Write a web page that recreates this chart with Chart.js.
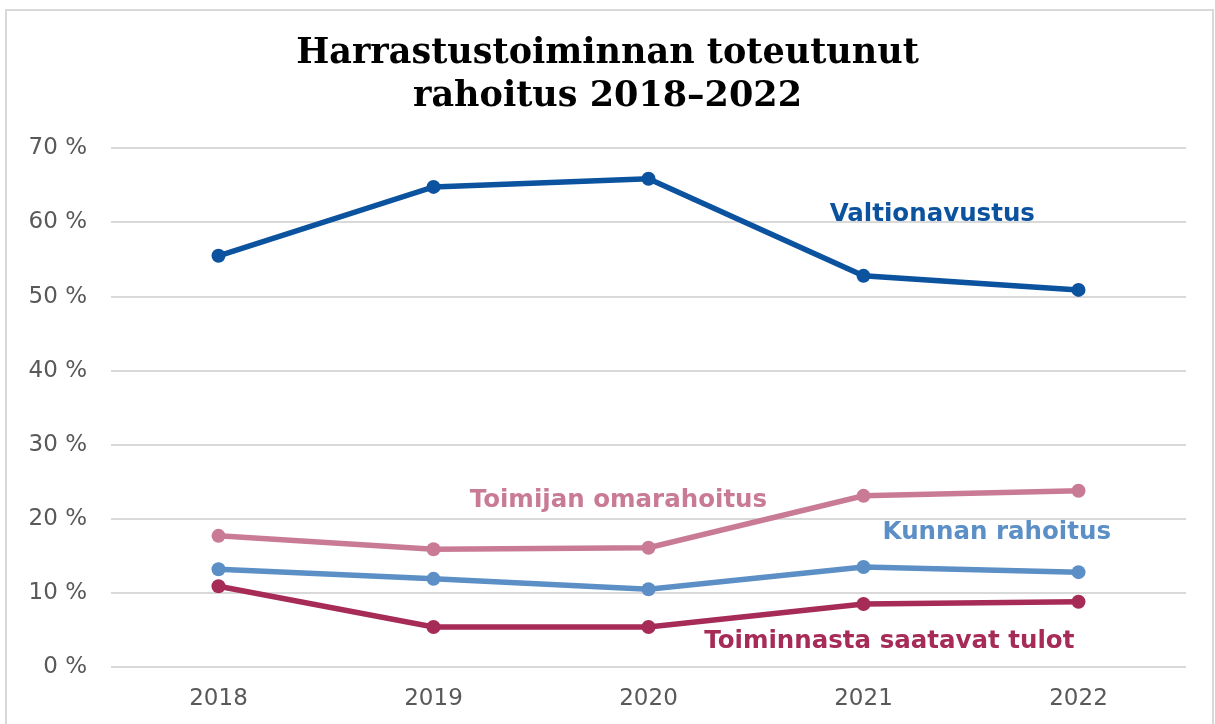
<!DOCTYPE html>
<html lang="fi">
<head>
<meta charset="utf-8">
<title>Harrastustoiminnan toteutunut rahoitus 2018–2022</title>
<script src="https://cdn.jsdelivr.net/npm/chart.js@4/dist/chart.umd.min.js"></script>
<style>
  html, body { margin: 0; padding: 0; background: #fff; overflow: hidden; }
  #wrap { position: relative; width: 1215px; height: 724px; }
  #chart { position: absolute; left: 0; top: 0; }
  #frame {
    position: absolute; left: 5px; top: 9px; width: 1205px; height: 760px;
    border: 2px solid #d9d9d9; pointer-events: none;
  }
</style>
</head>
<body>
<div id="wrap">
  <canvas id="chart" width="1215" height="724"></canvas>
  <div id="frame"></div>
</div>
<script>
// Vuodet ja sarjat (osuus rahoituksesta, %)
const years = ["2018", "2019", "2020", "2021", "2022"];
const valtionavustus = [55.5, 64.8, 65.9, 52.8, 50.9];
const omarahoitus = [17.7, 15.9, 16.1, 23.1, 23.8];
const kunnanRahoitus = [13.2, 11.9, 10.5, 13.5, 12.8];
const toiminnastaTulot = [10.9, 5.4, 5.4, 8.5, 8.8];
const yTicks = [0, 10, 20, 30, 40, 50, 60, 70];

const seriesNames = [
  "Valtionavustus",
  "Toimijan omarahoitus",
  "Kunnan rahoitus",
  "Toiminnasta saatavat tulot",
];
const seriesColors = ["#0b529f", "#c97b95", "#5b8fc6", "#a62b57"];

// Sarjojen nimet piirretään suoraan kuvaajaan (x = vuosi-indeksi, y = %)
const labelSpots = [
  { x: 3.32, y: 61.1 },
  { x: 1.86, y: 22.5 },
  { x: 3.62, y: 18.1 },
  { x: 3.12, y: 3.4 },
];

const seriesData = [valtionavustus, omarahoitus, kunnanRahoitus, toiminnastaTulot];

const inlineLabels = {
  id: "inlineLabels",
  afterDatasetsDraw(chart) {
    const ctx = chart.ctx;
    const xs = chart.scales.x;
    const ys = chart.scales.y;
    ctx.save();
    ctx.font = "bold 24.5px 'DejaVu Sans'";
    ctx.textAlign = "center";
    ctx.textBaseline = "middle";
    labelSpots.forEach((spot, i) => {
      ctx.fillStyle = seriesColors[i];
      ctx.fillText(seriesNames[i], xs.getPixelForValue(spot.x), ys.getPixelForValue(spot.y));
    });
    ctx.restore();
  },
};

const ctx = document.getElementById("chart").getContext("2d");
new Chart(ctx, {
  type: "line",
  data: {
    labels: years,
    datasets: seriesData.map((d, i) => ({
      label: seriesNames[i],
      data: d,
      borderColor: seriesColors[i],
      backgroundColor: seriesColors[i],
      borderWidth: 5.5,
      pointRadius: 7,
      pointHoverRadius: 7,
      pointBorderWidth: 0,
      tension: 0,
    })),
  },
  options: {
    responsive: false,
    animation: false,
    layout: { padding: { top: 0, right: 0, bottom: 11, left: 0 } },
    plugins: {
      legend: { display: false },
      tooltip: { enabled: false },
      title: {
        display: true,
        text: ["Harrastustoiminnan toteutunut", "rahoitus 2018–2022"],
        color: "#000",
        font: { family: "'DejaVu Serif'", size: 35, weight: "bold", lineHeight: 1.22 },
        padding: { top: 33, bottom: 30 },
      },
    },
    scales: {
      x: {
        offset: true,
        afterFit(scale) { scale.height = 46; },
        grid: { display: false, drawTicks: false },
        border: { display: false },
        ticks: {
          color: "#595959",
          padding: 18,
          font: { family: "'DejaVu Sans'", size: 23 },
        },
      },
      y: {
        min: 0,
        max: 70,
        afterFit(scale) { scale.width = 111; },
        afterBuildTicks(scale) { scale.ticks = yTicks.map((v) => ({ value: v })); },
        grid: { color: "#d9d9d9", lineWidth: 2, drawTicks: false },
        border: { display: false },
        ticks: {
          color: "#595959",
          padding: 24,
          font: { family: "'DejaVu Sans'", size: 23 },
          callback: (v) => v + " %",
        },
      },
      // tyhjä oikea akseli vain marginaaliksi
      yRight: {
        position: "right",
        min: 0,
        max: 70,
        afterFit(scale) { scale.width = 29; },
        grid: { display: false, drawTicks: false },
        border: { display: false },
        ticks: { display: false },
      },
    },
  },
  plugins: [inlineLabels],
});
</script>
</body>
</html>
